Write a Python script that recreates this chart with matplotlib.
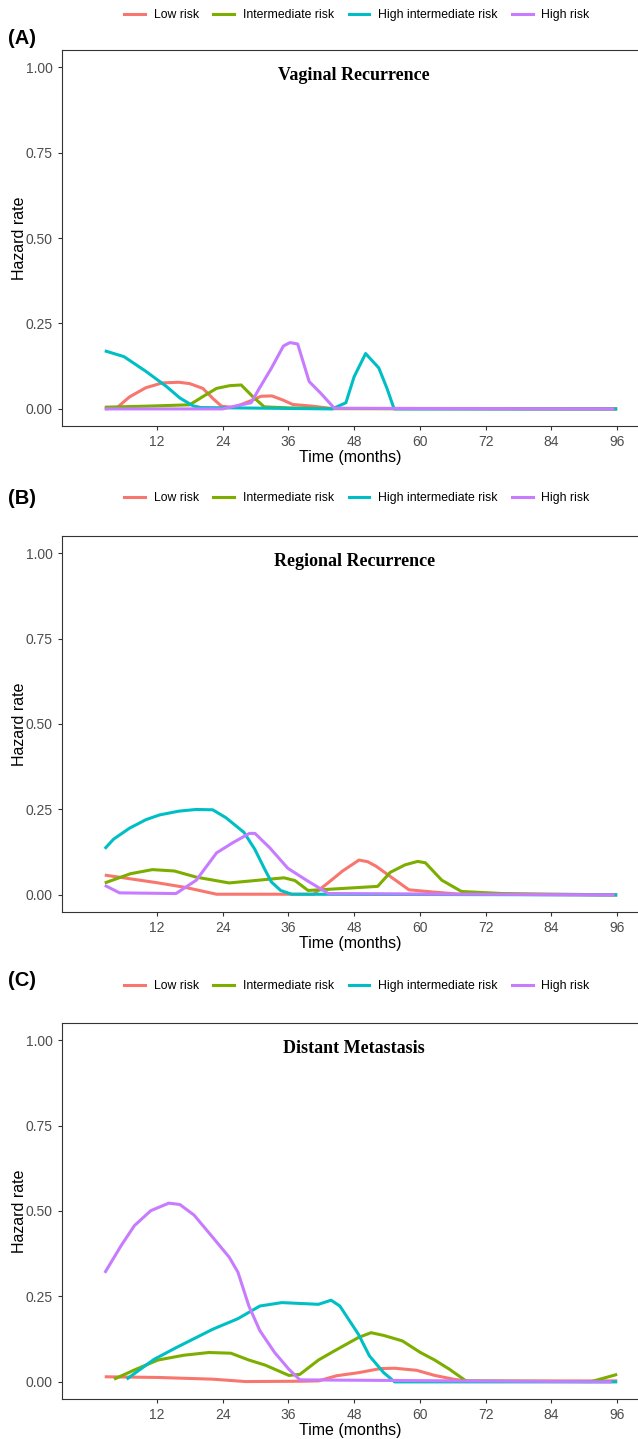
import numpy as np
import matplotlib
matplotlib.use('Agg')
import matplotlib.pyplot as plt
from matplotlib.lines import Line2D

# series names and ggplot hue colours
groups = ['Low risk', 'Intermediate risk', 'High intermediate risk', 'High risk']
colors = ['#F8766D', '#7CAE00', '#00BFC4', '#C77CFF']
titles = ['Vaginal Recurrence', 'Regional Recurrence', 'Distant Metastasis']
panel_tags = ['(A)', '(B)', '(C)']
x_ticks = [12, 24, 36, 48, 60, 72, 84, 96]
y_ticks = [0.0, 0.25, 0.50, 0.75, 1.00]

# (A) vaginal recurrence
vag_low_t = [2.5, 4.7, 7, 10, 13, 16, 18, 20.4, 22.2, 23.8, 26, 29.5, 31, 33, 35, 36.8, 40.4, 44, 96]
vag_low = [0.0, 0.003, 0.035, 0.062, 0.076, 0.078, 0.074, 0.06, 0.031, 0.008, 0.004, 0.026, 0.037, 0.038, 0.026, 0.013, 0.008, 0.001, 0.0]
vag_int_t = [2.5, 10, 18, 20.4, 22.9, 25.3, 27.4, 29.5, 31.6, 36, 44, 96]
vag_int = [0.005, 0.008, 0.012, 0.036, 0.06, 0.068, 0.07, 0.036, 0.006, 0.003, 0.001, 0.0]
vag_hint_t = [2.5, 6, 10, 13.8, 16.2, 18.6, 20, 44, 46.5, 48, 50.1, 52.5, 54, 55.3, 96]
vag_hint = [0.17, 0.153, 0.11, 0.065, 0.032, 0.009, 0.004, 0.0, 0.018, 0.094, 0.162, 0.12, 0.06, 0.0, 0.0]
vag_high_t = [2.5, 24, 26.5, 29.2, 30.7, 32.9, 35.1, 36.3, 37.7, 39.8, 41.9, 44.4, 95.5]
vag_high = [0.0, 0.0, 0.009, 0.018, 0.06, 0.119, 0.184, 0.194, 0.19, 0.08, 0.046, 0.002, 0.0]

# (B) regional recurrence
reg_low_t = [2.5, 11.9, 17.2, 22.9, 40.6, 43.3, 45.9, 48.9, 50.5, 52, 55.3, 58, 62, 67.3, 96]
reg_low = [0.058, 0.036, 0.022, 0.002, 0.002, 0.036, 0.07, 0.102, 0.097, 0.084, 0.046, 0.015, 0.009, 0.002, 0.0]
reg_int_t = [2.5, 7.2, 11.2, 15.2, 19.2, 25.2, 29.9, 35.2, 37.2, 39.6, 41.9, 52.3, 54.6, 57.3, 59.6, 61, 64, 67.6, 75, 96]
reg_int = [0.035, 0.062, 0.074, 0.07, 0.052, 0.035, 0.042, 0.05, 0.042, 0.013, 0.015, 0.025, 0.066, 0.088, 0.098, 0.094, 0.043, 0.01, 0.004, 0.0]
reg_hint_t = [2.5, 4.1, 7, 10, 12.5, 16, 19.2, 22.2, 24.6, 27.9, 29.9, 31.6, 32.9, 34.6, 36.6, 96]
reg_hint = [0.135, 0.163, 0.195, 0.22, 0.234, 0.245, 0.25, 0.249, 0.226, 0.183, 0.133, 0.078, 0.038, 0.013, 0.002, 0.0]
reg_high_t = [2.5, 5.2, 15.5, 19.2, 22.9, 25.9, 28.9, 29.9, 32.6, 35.9, 39.3, 43.3, 95.5]
reg_high = [0.028, 0.006, 0.004, 0.043, 0.123, 0.153, 0.18, 0.18, 0.138, 0.078, 0.043, 0.004, 0.0]

# (C) distant metastasis
dis_low_t = [2.5, 12.2, 22.2, 28.2, 38.1, 41.5, 44.8, 48.8, 52.8, 55.4, 59.4, 62.7, 66.1, 68.7, 96]
dis_low = [0.015, 0.013, 0.008, 0.001, 0.002, 0.003, 0.018, 0.027, 0.039, 0.04, 0.034, 0.019, 0.008, 0.002, 0.003]
dis_int_t = [4.2, 8.2, 12.2, 16.9, 21.5, 25.5, 28.8, 31.8, 36.1, 38.1, 41.5, 44.1, 48.8, 51.1, 53.4, 56.8, 60.1, 62.7, 65.4, 68.4, 91.3, 96]
dis_int = [0.008, 0.037, 0.064, 0.078, 0.086, 0.084, 0.064, 0.049, 0.019, 0.022, 0.064, 0.088, 0.13, 0.144, 0.136, 0.12, 0.086, 0.064, 0.037, 0.003, 0.001, 0.022]
dis_hint_t = [6.5, 11.5, 15.5, 22.2, 26.8, 30.8, 34.8, 41.5, 43.8, 45.4, 48.8, 50.8, 53.4, 55.4, 96]
dis_hint = [0.008, 0.066, 0.1, 0.154, 0.185, 0.222, 0.232, 0.227, 0.239, 0.222, 0.139, 0.076, 0.027, 0.0, 0.0]
dis_high_t = [2.5, 5.5, 7.9, 10.9, 14.2, 16.2, 18.8, 22.2, 25.2, 26.8, 28.8, 30.8, 33.5, 36.1, 38.1, 95]
dis_high = [0.319, 0.399, 0.457, 0.501, 0.523, 0.519, 0.488, 0.423, 0.365, 0.321, 0.222, 0.15, 0.086, 0.037, 0.006, 0.0]

panels = [
    [(vag_low_t, vag_low), (vag_int_t, vag_int), (vag_hint_t, vag_hint), (vag_high_t, vag_high)],
    [(reg_low_t, reg_low), (reg_int_t, reg_int), (reg_hint_t, reg_hint), (reg_high_t, reg_high)],
    [(dis_low_t, dis_low), (dis_int_t, dis_int), (dis_hint_t, dis_hint), (dis_high_t, dis_high)],
]

W, H = 638, 1439
fig = plt.figure(figsize=(W / 100, H / 100), dpi=100)
plt.rcParams['font.family'] = ['Liberation Sans', 'DejaVu Sans']

# pixel layout of each panel: (axes top, axes bottom, legend y, tag y)
layout = [(50, 426, 15, 38), (536, 912, 498, 498), (1023, 1399, 986, 980)]

for i, (series, (top, bot, leg_y, tag_y)) in enumerate(zip(panels, layout)):
    ax = fig.add_axes([62 / W, 1 - bot / H, (W - 62) / W, (bot - top) / H])
    for (t, v), c in zip(series, colors):
        ax.plot(t, v, color=c, linewidth=2.2, solid_capstyle='butt')

    ax.set_xlim(-5.3, 99.8)
    ax.set_ylim(-0.05, 1.05)
    ax.set_xticks(x_ticks)
    ax.set_yticks(y_ticks)
    ax.set_yticklabels(['0.00', '0.25', '0.50', '0.75', '1.00'])
    ax.tick_params(colors='#333333', labelcolor='#4D4D4D', labelsize=10, length=3, width=0.8)
    for side in ['left', 'top', 'bottom']:
        ax.spines[side].set_color('#333333')
        ax.spines[side].set_linewidth(0.8)
    ax.spines['right'].set_visible(False)
    ax.set_xlabel('Time (months)', fontsize=11.5, labelpad=1)
    ax.set_ylabel('Hazard rate', fontsize=11.5, labelpad=-1)

    ax.text(48, 0.975, titles[i], ha='center', va='center', fontsize=13,
            fontweight='bold', family='Liberation Serif')

    fig.text(8 / W, 1 - tag_y / H, panel_tags[i], ha='left', va='center',
             fontsize=14.5, fontweight='bold')

    handles = [Line2D([0], [0], color=c, linewidth=2.2) for c in colors]
    fig.legend(handles, groups, loc='center', bbox_to_anchor=(357 / W, 1 - leg_y / H),
               ncol=4, frameon=False, fontsize=8.8, handlelength=1.7,
               handletextpad=0.7, columnspacing=1.2)

fig.savefig('out.png', dpi=100, facecolor='white')
